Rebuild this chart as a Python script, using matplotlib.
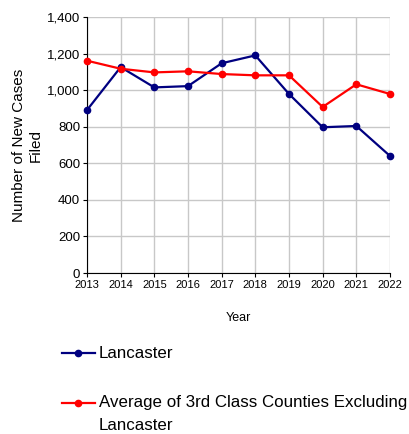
import matplotlib
matplotlib.use("Agg")
import matplotlib.pyplot as plt
from matplotlib.lines import Line2D
from matplotlib.ticker import FuncFormatter

# ── Data ──────────────────────────────────────────────────────────────────────
years     = [2013, 2014, 2015, 2016, 2017, 2018, 2019, 2020, 2021, 2022]
lancaster = [891, 1126, 1015, 1022, 1147, 1190, 979, 797, 804, 640]
avg_3rd   = [1161, 1117, 1097, 1103, 1088, 1081, 1081, 908, 1032, 979]

labels = ["Lancaster", "Average of 3rd Class Counties Excluding\nLancaster"]
colors = ["#000080", "#FF0000"]

plt.rcParams["font.family"] = ["Liberation Sans", "DejaVu Sans"]

W, H = 410, 434
fig = plt.figure(figsize=(W / 100, H / 100), dpi=100)
ax = fig.add_axes([87 / W, 1 - 273 / H, (390 - 87) / W, (273 - 17) / H])

for series, c in zip([lancaster, avg_3rd], colors):
    ax.plot(years, series, color=c, lw=1.6, marker="o", ms=4.5, zorder=3,
            clip_on=False)

ax.set_xlim(2013, 2022)
ax.set_ylim(0, 1400)
ax.set_xticks(years)
ax.set_yticks(range(0, 1401, 200))
ax.yaxis.set_major_formatter(FuncFormatter(lambda v, p: f"{int(v):,}"))
ax.grid(True, color="#C8C8C8", lw=1)
ax.set_axisbelow(True)
for s in ["top", "right"]:
    ax.spines[s].set_visible(False)
ax.spines["left"].set_color("black")
ax.spines["bottom"].set_color("black")
ax.tick_params(axis="x", labelsize=8, length=3, pad=2)
ax.tick_params(axis="y", labelsize=9.5, length=3, pad=2)

ax.set_xlabel("Year", fontsize=9, labelpad=16)
ax.set_ylabel("Number of New Cases\nFiled", fontsize=11, labelpad=3)

# ── Legend (below plot) ───────────────────────────────────────────────────────
for lbl, c, ypx in zip(labels, colors, [353, 403]):
    y = 1 - ypx / H
    fig.add_artist(Line2D([62 / W, 95 / W], [y, y], color=c, lw=1.6,
                          transform=fig.transFigure))
    fig.add_artist(Line2D([78 / W], [y], color=c, marker="o", ms=4.5,
                          transform=fig.transFigure))
    for i, part in enumerate(lbl.split("\n")):
        fig.text(99 / W, 1 - (ypx + 22 * i) / H, part, fontsize=12.2,
                 va="center", ha="left")

fig.savefig("out.png", dpi=100)
